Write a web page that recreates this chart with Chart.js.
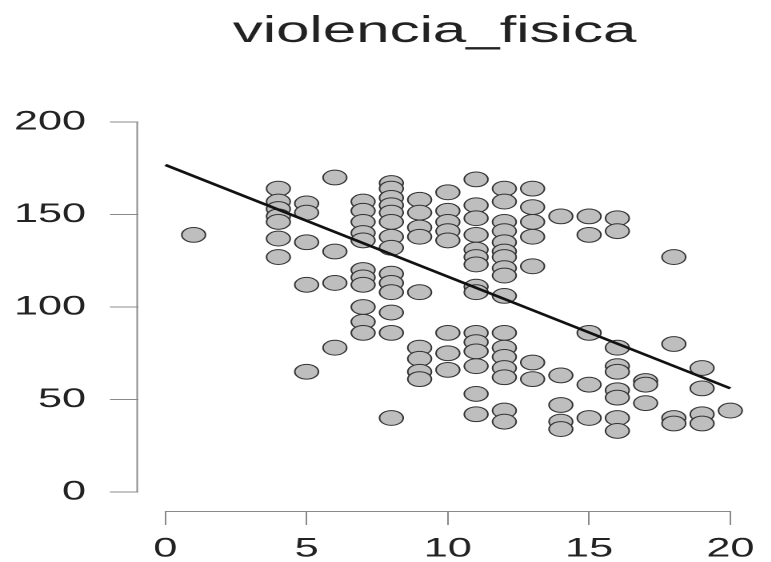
<!DOCTYPE html>
<html>
<head>
<meta charset="utf-8">
<script src="https://cdn.jsdelivr.net/npm/chart.js@4"></script>
<style>
    html, body { margin: 0; padding: 0; background: #fff; overflow: hidden; }
    /* the reference is an R plot that was stretched sideways, so draw it narrow and stretch it */
    #wrap { width: 482px; height: 562px; transform: scaleX(1.6); transform-origin: 0 0; }
</style>
</head>
<body>
<div id="wrap"><canvas id="scatterChart"></canvas></div>
<script>
// x values and the y values found at each x
const xValues = [1, 4, 5, 6, 7, 8, 9, 10, 11, 12, 13, 14, 15, 16, 17, 18, 19, 20];
const yByX = [
    [139],
    [164, 157, 153, 149, 146, 137, 127],
    [156, 151, 135, 112, 65],
    [170, 130, 113, 78],
    [157, 152, 146, 140, 136, 120, 116, 112, 100, 92, 86],
    [167, 164, 159, 155, 151, 146, 138, 132, 118, 113, 108, 97, 86, 40],
    [158, 151, 143, 138, 108, 78, 72, 65, 61],
    [162, 152, 146, 141, 136, 86, 75, 66],
    [169, 155, 148, 139, 131, 127, 123, 111, 108, 86, 81, 76, 68, 53, 42],
    [164, 157, 146, 141, 135, 130, 127, 121, 117, 106, 86, 78, 73, 67, 62, 44, 38],
    [164, 154, 146, 138, 122, 70, 61],
    [149, 63, 47, 38, 34],
    [149, 139, 86, 58, 40],
    [148, 141, 78, 68, 65, 55, 51, 40, 33],
    [60, 58, 48],
    [127, 80, 40, 37],
    [67, 56, 42, 37],
    [44]
];

// fitted regression line, ends
const lineX = [0, 20];
const lineY = [176.8, 56];

const xTicks = [0, 5, 10, 15, 20];
const yTicks = [0, 50, 100, 150, 200];
const titleText = 'violencia_fisica';

const points = [];
xValues.forEach((x, i) => {
    yByX[i].forEach(y => points.push({ x: x, y: y }));
});
const linePoints = lineX.map((x, i) => ({ x: x, y: lineY[i] }));

// R style axes: a line only from first to last tick, title centred like R does it
const rAxes = {
    id: 'rAxes',
    afterDraw(chart) {
        const ctx = chart.ctx;
        const xs = chart.scales.x;
        const ys = chart.scales.y;
        ctx.save();
        ctx.strokeStyle = '#8a8a8a';
        ctx.lineWidth = 1;
        ctx.beginPath();
        ctx.moveTo(xs.getPixelForValue(xTicks[0]), xs.top + 0.5);
        ctx.lineTo(xs.getPixelForValue(xTicks[xTicks.length - 1]), xs.top + 0.5);
        ctx.moveTo(ys.right - 0.5, ys.getPixelForValue(yTicks[0]));
        ctx.lineTo(ys.right - 0.5, ys.getPixelForValue(yTicks[yTicks.length - 1]));
        ctx.stroke();

        ctx.fillStyle = '#222';
        ctx.font = '37.5px "Liberation Sans", Arial, sans-serif';
        ctx.textAlign = 'center';
        ctx.textBaseline = 'alphabetic';
        ctx.fillText(titleText, 271.6, 42);
        ctx.restore();
    }
};

const tickFont = { family: '"Liberation Sans", Arial, sans-serif', size: 27 };

new Chart(document.getElementById('scatterChart'), {
    type: 'scatter',
    data: {
        datasets: [
            {
                type: 'line',
                data: linePoints,
                borderColor: '#111',
                borderWidth: 2.5,
                pointRadius: 0,
                fill: false,
                order: 0
            },
            {
                data: points,
                backgroundColor: '#bebebe',
                borderColor: '#333',
                borderWidth: 1,
                pointRadius: 7.4,
                pointHoverRadius: 7.4,
                order: 1
            }
        ]
    },
    options: {
        responsive: true,
        maintainAspectRatio: false,
        animation: false,
        devicePixelRatio: 2,
        layout: { padding: { left: 0, right: 1, top: 103, bottom: 0 } },
        plugins: {
            legend: { display: false },
            tooltip: { enabled: false },
            title: { display: false }
        },
        scales: {
            x: {
                type: 'linear',
                min: -0.97,
                max: 20.97,
                afterBuildTicks: s => { s.ticks = xTicks.map(v => ({ value: v })); },
                afterFit: s => { s.height = 51; },
                border: { display: false },
                grid: { drawOnChartArea: false, drawTicks: true, tickLength: 14, color: '#8a8a8a' },
                ticks: { color: '#222', font: tickFont, padding: 8, maxRotation: 0 }
            },
            y: {
                type: 'linear',
                min: -10.3,
                max: 210.3,
                afterBuildTicks: s => { s.ticks = yTicks.map(v => ({ value: v })); },
                afterFit: s => { s.width = 86.25; },
                border: { display: false },
                grid: { drawOnChartArea: false, drawTicks: true, tickLength: 17.5, color: '#8a8a8a' },
                ticks: { color: '#222', font: tickFont, padding: 15 }
            }
        }
    },
    plugins: [rAxes]
});
</script>
</body>
</html>
